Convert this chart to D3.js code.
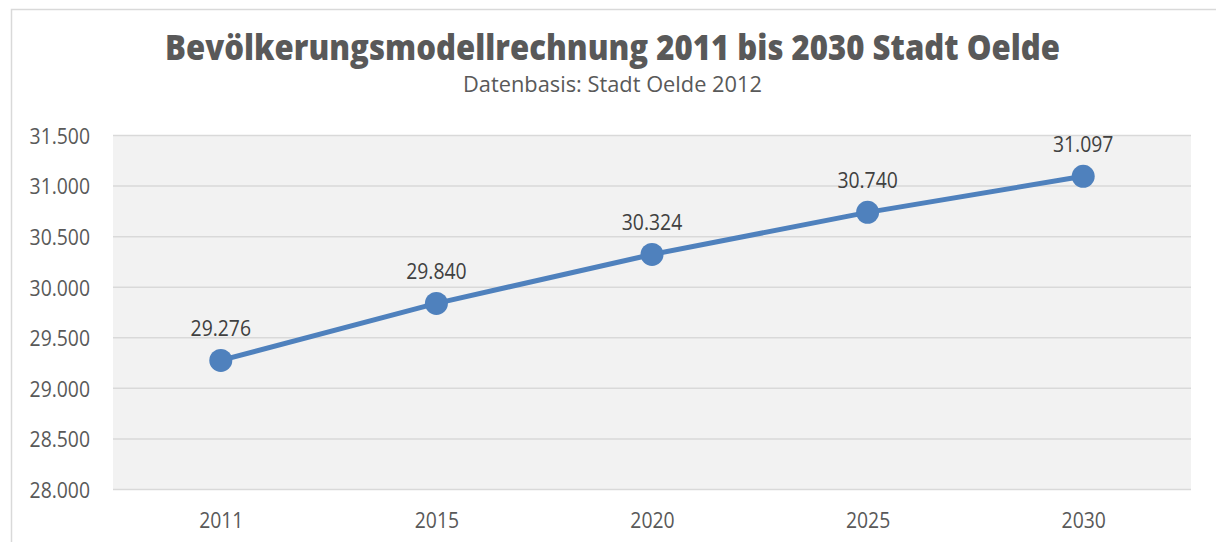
<!DOCTYPE html>
<html>
<head>
<meta charset="utf-8">
<script src="https://cdn.jsdelivr.net/npm/d3@7"></script>
<style>
  body { margin: 0; background: #fff; }
  svg { display: block; font-family: "Open Sans", sans-serif; }
</style>
</head>
<body>
<script>
// data
var years = ["2011", "2015", "2020", "2025", "2030"];
var population = [29276, 29840, 30324, 30740, 31097];
var yTicks = [28000, 28500, 29000, 29500, 30000, 30500, 31000, 31500];

var width = 1216, height = 542;
var margin = {top: 135.5, right: 25, bottom: 52.5, left: 113};

var svg = d3.select("body").append("svg")
    .attr("width", width)
    .attr("height", height);

// chart frame
svg.append("rect")
    .attr("x", 11.5).attr("y", 9.5)
    .attr("width", 1240).attr("height", 600)
    .attr("fill", "#fff")
    .attr("stroke", "#d9d9d9")
    .attr("stroke-width", 1.5);

var de = d3.formatLocale({decimal: ",", thousands: ".", grouping: [3], currency: ["", " €"]});
var fmt = de.format(",d");

var x = d3.scalePoint()
    .domain(years)
    .range([margin.left, width - margin.right])
    .padding(0.5);

var y = d3.scaleLinear()
    .domain([28000, 31500])
    .range([height - margin.bottom, margin.top]);

// squeeze digits a little so they look like the narrow original font
function narrow(sel) {
    sel.each(function () {
        var w = this.getComputedTextLength();
        d3.select(this)
            .attr("textLength", w * 0.88)
            .attr("lengthAdjust", "spacingAndGlyphs");
    });
}

// plot background
svg.append("rect")
    .attr("x", margin.left)
    .attr("y", margin.top)
    .attr("width", width - margin.right - margin.left)
    .attr("height", height - margin.bottom - margin.top)
    .attr("fill", "#f2f2f2");

// grid lines
svg.append("g")
    .selectAll("line")
    .data(yTicks)
    .enter().append("line")
    .attr("x1", margin.left)
    .attr("x2", width - margin.right)
    .attr("y1", function (d) { return y(d); })
    .attr("y2", function (d) { return y(d); })
    .attr("stroke", "#d9d9d9")
    .attr("stroke-width", 1.5);

// y axis
var yAxis = svg.append("g")
    .attr("transform", "translate(" + (margin.left - 23) + ",0)")
    .call(d3.axisLeft(y).tickValues(yTicks).tickFormat(fmt).tickSize(0).tickPadding(0));
yAxis.attr("font-family", null).attr("font-size", null);
yAxis.select(".domain").remove();
yAxis.selectAll("text")
    .attr("fill", "#595959")
    .style("font-size", "22px")
    .attr("dy", "0.36em")
    .call(narrow);

// x axis
var xAxis = svg.append("g")
    .attr("transform", "translate(0," + (height - margin.bottom) + ")")
    .call(d3.axisBottom(x).tickSize(0).tickPadding(0));
xAxis.attr("font-family", null).attr("font-size", null);
xAxis.select(".domain").remove();
xAxis.selectAll("text")
    .attr("fill", "#595959")
    .style("font-size", "22px")
    .attr("dy", null)
    .attr("y", 38.5)
    .call(narrow);

// line
var line = d3.line()
    .x(function (d, i) { return x(years[i]); })
    .y(function (d) { return y(d); });

svg.append("path")
    .datum(population)
    .attr("d", line)
    .attr("fill", "none")
    .attr("stroke", "#4f81bd")
    .attr("stroke-width", 5)
    .attr("stroke-linejoin", "round");

svg.append("g")
    .selectAll("circle")
    .data(population)
    .enter().append("circle")
    .attr("cx", function (d, i) { return x(years[i]); })
    .attr("cy", function (d) { return y(d); })
    .attr("r", 11.5)
    .attr("fill", "#4f81bd");

// data labels
svg.append("g")
    .selectAll("text")
    .data(population)
    .enter().append("text")
    .attr("x", function (d, i) { return x(years[i]); })
    .attr("y", function (d) { return y(d) - 24; })
    .attr("text-anchor", "middle")
    .attr("fill", "#404040")
    .style("font-size", "22px")
    .text(function (d) { return fmt(d); })
    .call(narrow);

// titles
svg.append("text")
    .attr("x", 612.5)
    .attr("y", 60)
    .attr("text-anchor", "middle")
    .attr("fill", "#595959")
    .style("font-size", "35px")
    .style("font-weight", "800")
    .attr("textLength", 895)
    .attr("lengthAdjust", "spacingAndGlyphs")
    .text("Bevölkerungsmodellrechnung 2011 bis 2030 Stadt Oelde");

svg.append("text")
    .attr("x", 612.5)
    .attr("y", 92)
    .attr("text-anchor", "middle")
    .attr("fill", "#595959")
    .style("font-size", "22px")
    .attr("textLength", 299)
    .attr("lengthAdjust", "spacingAndGlyphs")
    .text("Datenbasis: Stadt Oelde 2012");
</script>
</body>
</html>
